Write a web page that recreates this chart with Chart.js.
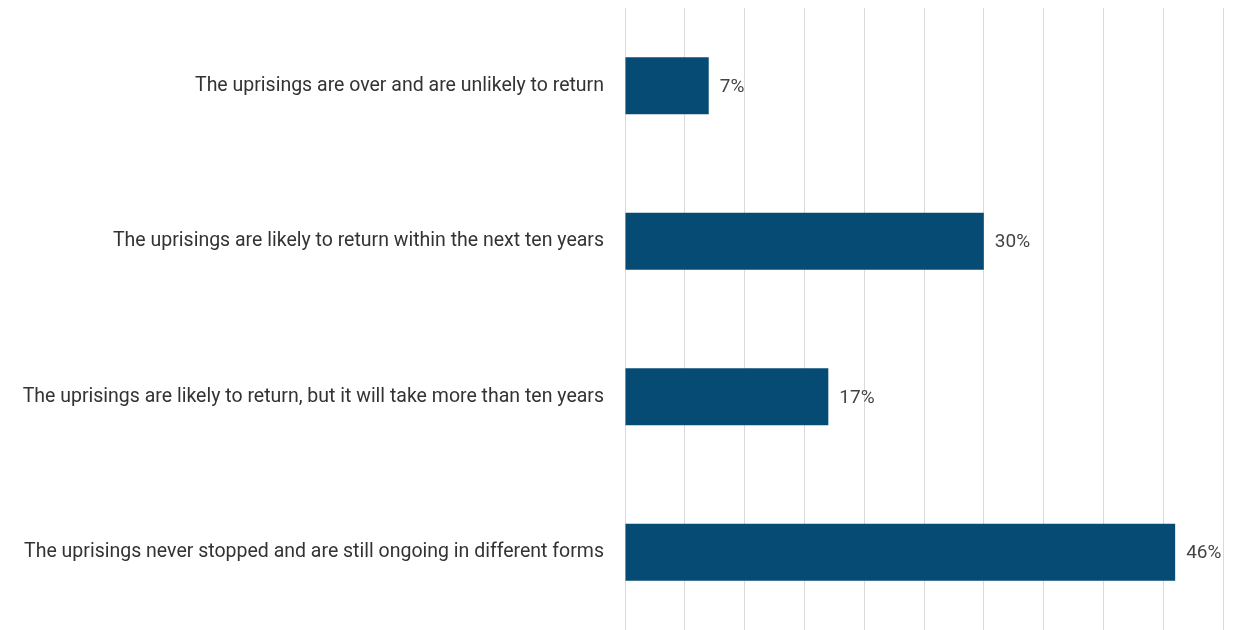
<!DOCTYPE html>
<html>
<head>
<meta charset="utf-8">
<script src="https://cdn.jsdelivr.net/npm/chart.js@4"></script>
<style>
  html, body { margin: 0; padding: 0; background: #fff; overflow: hidden; }
  #wrap { width: 1233px; height: 630px; position: relative; }
</style>
</head>
<body>
<div id="wrap"><canvas id="surveyChart"></canvas></div>
<script>
// Survey answers (share of respondents, %)
const categories = [
    'The uprisings are over and are unlikely to return',
    'The uprisings are likely to return within the next ten years',
    'The uprisings are likely to return, but it will take more than ten years',
    'The uprisings never stopped and are still ongoing in different forms'
];
const shares = [7, 30, 17, 46];
const axisMax = 50;
const axisStep = 5;

// value labels to the right of each bar
const valueLabels = {
    id: 'valueLabels',
    afterDatasetsDraw(chart) {
        const ctx = chart.ctx;
        const meta = chart.getDatasetMeta(0);
        ctx.save();
        ctx.font = '19px Roboto';
        ctx.fillStyle = '#444';
        ctx.textAlign = 'left';
        ctx.textBaseline = 'middle';
        meta.data.forEach((bar, i) => {
            ctx.fillText(shares[i] + '%', bar.x + 11, bar.y + 1);
        });
        ctx.restore();
    }
};

new Chart(document.getElementById('surveyChart'), {
    type: 'bar',
    data: {
        labels: categories,
        datasets: [{
            data: shares,
            backgroundColor: '#054b74',
            borderWidth: 0,
            categoryPercentage: 1,
            barPercentage: 0.365
        }]
    },
    options: {
        indexAxis: 'y',
        responsive: true,
        maintainAspectRatio: false,
        animation: false,
        layout: { padding: { top: 8, right: 10, bottom: 0, left: 0 } },
        plugins: {
            legend: { display: false },
            tooltip: { enabled: false }
        },
        scales: {
            x: {
                min: 0,
                max: axisMax,
                ticks: { display: false, stepSize: axisStep },
                grid: { color: '#d9d9d9', lineWidth: 1, drawTicks: false },
                border: { display: false }
            },
            y: {
                afterFit(scale) {
                    scale.width = 625;
                    scale.paddingTop = 0;
                    scale.paddingBottom = 0;
                },
                ticks: {
                    padding: 21,
                    color: '#333',
                    font: { family: 'Roboto', size: 19.5 }
                },
                grid: { display: false, drawTicks: false },
                border: { display: false }
            }
        }
    },
    plugins: [valueLabels]
});
</script>
</body>
</html>
